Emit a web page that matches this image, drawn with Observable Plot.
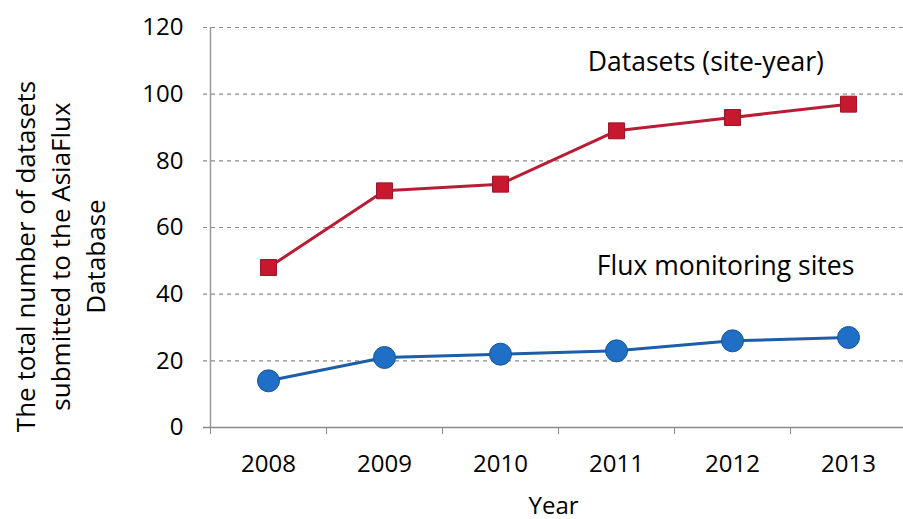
<!DOCTYPE html>
<html>
<head>
<meta charset="utf-8">
<script src="https://cdn.jsdelivr.net/npm/d3@7"></script>
<script src="https://cdn.jsdelivr.net/npm/@observablehq/plot@0.6"></script>
<style>
  html, body { margin: 0; padding: 0; background: #fff; overflow: hidden; }
  #chart svg { display: block; }
</style>
</head>
<body>
<div id="chart"></div>
<script>
const years = [2008, 2009, 2010, 2011, 2012, 2013];
const datasets = [48, 71, 73, 89, 93, 97];
const fluxSites = [14, 21, 22, 23, 26, 27];
const yTicks = [0, 20, 40, 60, 80, 100, 120];
const seriesLabels = [
  { text: "Datasets (site-year)", year: 2011.77, value: 109.5 },
  { text: "Flux monitoring sites", year: 2011.94, value: 48.3 }
];
const yTitle = "The total number of datasets\nsubmitted to the AsiaFlux\nDatabase";
const xTitle = "Year";

const dsData = years.map((y, i) => ({ year: y, value: datasets[i] }));
const fxData = years.map((y, i) => ({ year: y, value: fluxSites[i] }));
const boundaries = years.map(y => y - 0.5).concat([years[years.length - 1] + 0.5]);

const font = "'Open Sans', Lato, sans-serif";
const red = "#b81d35", redFill = "#c8182f", redStroke = "#9a1526";
const blue = "#1c5ea8", blueFill = "#1f6fc6", blueStroke = "#175497";

const plot = Plot.plot({
  width: 903,
  height: 519,
  marginLeft: 203,
  marginRight: 0,
  marginTop: 27,
  marginBottom: 92,
  style: { fontFamily: font, fontSize: "25px", color: "#000", background: "#fff" },
  x: { type: "linear", domain: [2007.5, 2013.5], range: [210, 906] },
  y: { domain: [0, 120] },
  marks: [
    Plot.ruleY(yTicks.filter(d => d > 0), { stroke: "#8a8a8a", strokeWidth: 1.2, strokeDasharray: "4,4" }),
    Plot.ruleX([2007.5], { y1: 0, y2: 120, stroke: "#9a9a9a", strokeWidth: 1.5 }),
    Plot.ruleY([0], { stroke: "#8a8a8a", strokeWidth: 1.5 }),
    Plot.axisY({ ticks: yTicks, tickSize: 0, tickPadding: 20, fontSize: 24, label: null }),
    Plot.axisX({ ticks: boundaries, tickSize: 7, tickFormat: () => "", stroke: "#8a8a8a", label: null }),
    Plot.axisX({ ticks: years, tickSize: 0, tickPadding: 27, tickFormat: d => String(d), fontSize: 24,
      label: xTitle, labelAnchor: "center", labelArrow: "none", labelOffset: 86 }),
    Plot.line(dsData, { x: "year", y: "value", stroke: red, strokeWidth: 3 }),
    Plot.dot(dsData, { x: "year", y: "value", symbol: "square", r: 9, fill: redFill, stroke: redStroke, strokeWidth: 1 }),
    Plot.line(fxData, { x: "year", y: "value", stroke: blue, strokeWidth: 3 }),
    Plot.dot(fxData, { x: "year", y: "value", symbol: "circle", r: 11, fill: blueFill, stroke: blueStroke, strokeWidth: 1 }),
    Plot.text(seriesLabels, { x: "year", y: "value", text: "text", fontSize: 26.5, fill: "#000", textAnchor: "middle" }),
    Plot.text([yTitle], { frameAnchor: "left", textAnchor: "middle", lineAnchor: "middle", rotate: -90,
      dx: -145, dy: 29, fontSize: 26, lineHeight: 1.35, fill: "#000" })
  ]
});
document.getElementById("chart").appendChild(plot);
</script>
</body>
</html>
